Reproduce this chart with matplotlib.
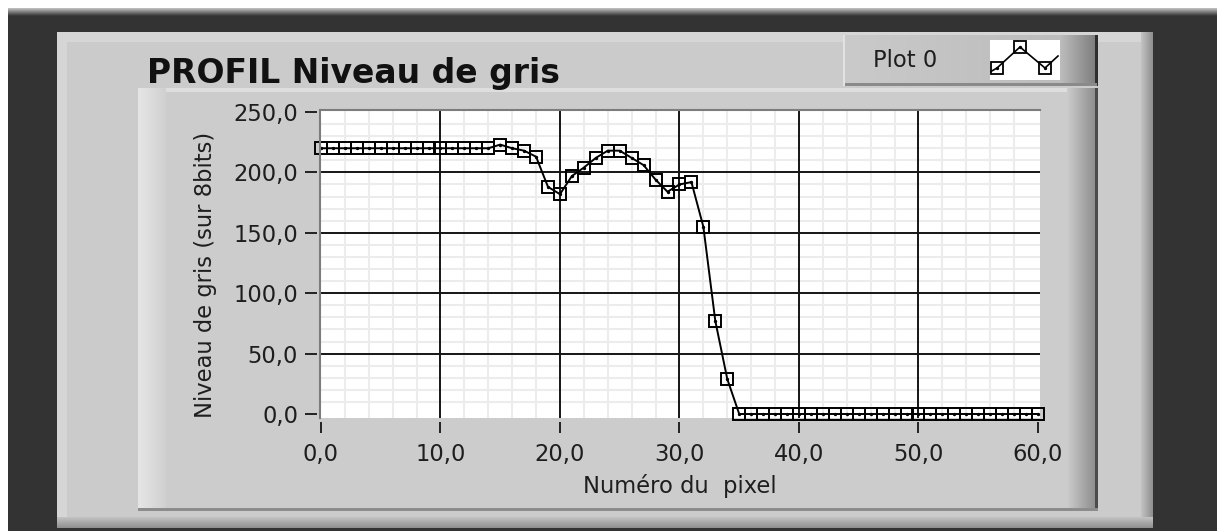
import numpy as np
import matplotlib
matplotlib.use('Agg')
import matplotlib.pyplot as plt
from matplotlib.colors import to_rgb
from matplotlib.patches import Rectangle

W, H = 1224, 531

# grey level profile, one value per pixel
pixel = list(range(61))
gris = [220, 220, 220, 220, 220, 220, 220, 220, 220, 220,
        220, 220, 220, 220, 220, 223, 220, 218, 213, 188,
        182, 197, 204, 212, 218, 218, 212, 206, 194, 184,
        190, 192, 155, 77, 29, 0, 0, 0, 0, 0,
        0, 0, 0, 0, 0, 0, 0, 0, 0, 0,
        0, 0, 0, 0, 0, 0, 0, 0, 0, 0,
        0]

x_ticks = [0, 10, 20, 30, 40, 50, 60]
y_ticks = [0, 50, 100, 150, 200, 250]
x_labels = ['0,0', '10,0', '20,0', '30,0', '40,0', '50,0', '60,0']
y_labels = ['0,0', '50,0', '100,0', '150,0', '200,0', '250,0']

# little zigzag shown in the plot legend swatch
swatch_x = [0, 7, 30, 55, 68]
swatch_y = [32, 28, 7, 28, 16]

txt = '#1e1e1e'
fs = 16.3

fig = plt.figure(figsize=(W / 100, H / 100), dpi=100, facecolor='white')

# background layer in pixel coordinates (y down)
bg = fig.add_axes([0, 0, 1, 1])
bg.set_autoscale_on(False)
bg.set_xlim(0, W)
bg.set_ylim(H, 0)
bg.axis('off')

layer = [0]


def rect(x0, y0, x1, y1, color):
    layer[0] += 1
    bg.add_patch(Rectangle((x0, y0), x1 - x0, y1 - y0, color=color, lw=0,
                           zorder=layer[0]))


def band(x0, y0, x1, y1, c0, c1, vertical=False):
    layer[0] += 1
    t = np.linspace(0, 1, 64)[:, None]
    a, b = np.array(to_rgb(c0)), np.array(to_rgb(c1))
    cols = a + (b - a) * t
    img = cols[:, None, :] if vertical else cols[None, :, :]
    bg.imshow(img, extent=(x0, x1, y1, y0), aspect='auto',
              interpolation='bilinear', zorder=layer[0])


# dark window background
rect(8, 8, 1217, H, '#333333')
band(8, 8, 1217, 16, '#c4c4c4', '#333333', vertical=True)

# outer panel with bevel
rect(57, 32, 1153, 528, '#cbcbcb')
rect(57, 32, 1153, 42, '#d6d6d6')
rect(57, 32, 67, 528, '#d6d6d6')
band(1141, 32, 1153, 528, '#c4c4c4', '#8e8e8e')
band(57, 517, 1153, 528, '#c4c4c4', '#8e8e8e', vertical=True)

# graph frame
rect(138, 88, 1097, 511, '#cccccc')
rect(138, 88, 1097, 92, '#dedede')
band(138, 88, 166, 511, '#e6e6e6', '#d0d0d0')
band(1067, 88, 1097, 511, '#cccccc', '#8a8a8a')
rect(1095, 88, 1098, 511, '#4a4a4a')
rect(138, 508, 1098, 511, '#8c8c8c')

# legend box
band(843, 35, 1060, 86, '#cacaca', '#bcbcbc')
band(1060, 35, 1097, 86, '#bdbdbd', '#7c7c7c')
rect(1095, 35, 1098, 86, '#2e2e2e')
rect(843, 35, 845, 86, '#e2e2e2')
rect(845, 83, 1097, 86, '#8a8a8a')

fig.text(147, H - 83, 'PROFIL Niveau de gris', transform=None,
         fontsize=23.8, fontweight='bold', color='#111111',
         ha='left', va='baseline')
fig.text(873, H - 67, 'Plot 0', transform=None, fontsize=fs,
         color=txt, ha='left', va='baseline')

lax = fig.add_axes([990 / W, (H - 80) / H, 70 / W, 40 / H])
lax.set_facecolor('white')
lax.set_xlim(0, 70)
lax.set_ylim(40, 0)
lax.set_xticks([])
lax.set_yticks([])
for s in lax.spines.values():
    s.set_visible(False)
lax.plot(swatch_x, swatch_y, color='black', lw=1.2)
lax.plot(swatch_x[1:4], swatch_y[1:4], ls='none', marker='s', ms=8,
         mfc='none', mec='black', mew=1.3)
lax.plot(swatch_x[1:4], swatch_y[1:4], ls='none', marker='o', ms=1.4,
         color='black')

# the graph itself
ax = fig.add_axes([320 / W, (H - 418) / H, 720 / W, 308 / H])
ax.set_facecolor('white')
ax.set_xlim(-0.08, 60.17)
ax.set_ylim(-3.31, 251.66)

ax.set_xticks(x_ticks)
ax.set_xticklabels(x_labels)
ax.set_yticks(y_ticks)
ax.set_yticklabels(y_labels)
ax.set_xticks(np.arange(0, 61, 2), minor=True)
ax.set_yticks(np.arange(0, 251, 10), minor=True)
ax.grid(which='minor', color='#ececec', lw=1.5)
ax.set_axisbelow(True)
for xv in x_ticks[1:-1]:
    ax.axvline(xv, color='#151515', lw=1.4, zorder=1)
for yv in y_ticks[1:-1]:
    ax.axhline(yv, color='#151515', lw=1.4, zorder=1)

ax.tick_params(which='minor', length=0)
ax.tick_params(axis='y', which='major', direction='out', length=8.6,
               width=1.4, color='#222222', pad=5, labelsize=fs,
               labelcolor=txt)
ax.tick_params(axis='x', which='major', direction='out', length=7.9,
               width=1.4, color='#222222', pad=7, labelsize=fs,
               labelcolor=txt)

ax.spines['left'].set_position(('outward', 2.2))
ax.spines['bottom'].set_position(('outward', 2.9))
for s in ax.spines.values():
    s.set_visible(False)

# sunken border: grey on top and left only
ax.plot([0, 0], [0, 1], transform=ax.transAxes, color='#7c7c7c', lw=1.5,
        clip_on=False, zorder=5)
ax.plot([0, 1], [1, 1], transform=ax.transAxes, color='#7c7c7c', lw=1.5,
        clip_on=False, zorder=5)

ax.plot(pixel, gris, color='black', lw=1.4, marker='s', ms=8.3,
        mfc='none', mec='black', mew=1.4, clip_on=False, zorder=4)
ax.plot(pixel, gris, ls='none', marker='o', ms=1.4, color='black',
        clip_on=False, zorder=4)

ax.set_xlabel('Numéro du  pixel', fontsize=fs, color=txt)
ax.xaxis.set_label_coords(680 / W, (H - 474) / H, transform=fig.transFigure)
ax.set_ylabel('Niveau de gris (sur 8bits)', fontsize=fs, color=txt)
ax.yaxis.set_label_coords(217 / W, (H - 275) / H, transform=fig.transFigure)

fig.savefig('out.png', dpi=100, facecolor='white')
